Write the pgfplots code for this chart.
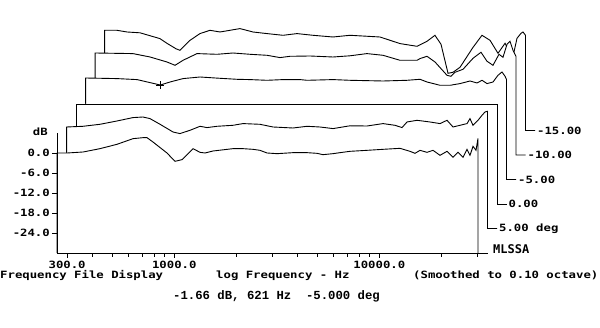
\documentclass[border=0pt]{standalone}
\usepackage{pgfplots}
\usepackage{pgfplotstable}
\pgfplotsset{compat=1.18}
\usepackage{fontspec}
\newfontfamily\dosfont[FakeStretch=1.23]{DejaVu Sans Mono}
\newfontfamily\tallfont{DejaVu Sans Mono}
\newfontfamily\curfont{Liberation Mono}
\newcommand\dos{\dosfont\bfseries\fontsize{10}{12}\selectfont}
\newcommand\tall{\tallfont\bfseries\fontsize{12}{14}\selectfont}
\newcommand\cur{\curfont\bfseries\fontsize{12.3}{14}\selectfont}

% traces: frequency (Hz), level (dB) in each trace's own frame; -30 = floor
\pgfplotstableread{
f db
268 -30
268 0.0
300 0.0
359 0.3
434 1.3
525 2.6
629 4.3
704 4.6
736 4.6
787 3.3
921 0.0
1008 -2.5
1090 -2.0
1234 1.3
1335 0.2
1412 0.0
1545 0.6
1933 1.3
2163 1.3
2420 1.1
2618 0.8
2833 0.0
3170 -0.2
3793 0.1
4440 0.1
4968 -0.1
5314 -0.5
5945 -0.2
6432 0.1
7196 0.5
8710 0.8
10424 1.1
12616 1.4
14116 0.5
14932 -0.1
15795 0.8
17089 0.2
18281 0.8
19775 -0.7
21391 0.5
22882 -1.3
24203 0.2
25600 -1.3
26778 1.1
27694 -0.7
28648 2.0
29630 0.8
30300 4.4
30300 -30
}\traceA

\pgfplotstableread{
f db
268 -30
268 0.45
322 0.66
390 1.26
472 2.25
565 3.27
632 3.45
684 2.97
766 1.26
886 -1.05
958 -1.53
1072 -0.54
1200 0.66
1298 0.27
1452 0.66
1738 0.96
1945 1.47
2353 1.26
2723 0.45
3410 0.15
3990 0.66
4618 0.45
5343 -0.03
6467 0.81
7829 0.75
9370 1.47
10720 0.96
11600 0.27
12270 1.95
13730 2.46
15890 1.95
17780 1.47
19230 2.46
20570 0.45
22250 0.96
24080 1.47
24890 2.97
25740 0.96
27240 2.46
28490 3.96
29460 4.95
30300 5.16
30300 -30
33800 -30
}\traceB

\pgfplotstableread{
f db
268 -30
268 0
30300 0
30300 -30
33800 -30
}\traceC

\pgfplotstableread{
f db
268 -30
268 0.45
381 0.27
478 -0.03
621 -1.66
692 -0.75
801 0.27
969 0.75
1213 0.36
1468 0.06
1699 -0.03
2057 -0.24
2462 -0.03
2980 -0.03
3224 -0.24
4316 -0.03
5225 -0.24
7568 -0.45
9910 -0.24
11470 0.06
12410 -0.75
14360 -1.74
16070 -1.74
17980 -1.23
20110 -0.45
21760 -1.05
23010 -0.24
24350 -1.23
26040 -0.75
27540 1.26
28810 2.25
29810 0.96
30300 0.0
30300 -30
33800 -30
}\traceD

\pgfplotstableread{
f db
268 -30
268 0.6
410 0.42
497 -0.6
601 -2.1
658 -3.09
720 -1.59
842 0.42
1054 0.21
1262 0.6
1527 0.21
1849 -0.09
2140 -0.78
2393 -0.39
2997 -0.3
3880 -0.6
4696 -0.24
5682 0.42
6803 -0.09
8234 -1.59
9968 -1.59
10310 -1.08
11150 -0.39
12200 -2.1
13960 -6.09
14600 -6.39
15270 -5.19
16710 -4.29
18700 -0.99
20450 0.81
21880 -1.89
23400 -3.09
25030 0.21
26180 -0.69
27390 3.21
28330 4.11
29300 1.41
30300 -0.39
30300 -30
33800 -30
}\traceE

\pgfplotstableread{
f db
268 -30
268 0.06
308 0.06
345 -0.45
399 -0.69
499 -2.43
540 -3.84
598 -5.49
625 -5.94
700 -2.94
783 -0.93
876 0.06
980 -0.45
1227 0.57
1420 -0.45
1662 -0.93
1989 -1.44
2327 -0.93
2786 -1.44
3487 -1.95
4222 -1.44
5912 -1.95
7402 -3.93
8960 -4.74
10020 -3.24
10960 -1.44
11730 -4.14
12690 -12.84
13420 -12.54
14520 -11.04
16810 -5.04
18590 -1.44
20340 -2.94
22250 -6.84
24080 -3.84
25460 -6.84
26340 -7.74
27540 -2.34
28810 -0.84
29460 -0.45
30300 -1.44
30300 -30
33800 -30
}\traceF

\pgfplotstableread{
f db
621 -1.66
}\cursor

\def\dx{0.04634}
\def\dy{7.35}

\begin{document}
\begin{tikzpicture}
\useasboundingbox (0pt,0pt) rectangle (600pt,328pt);
\begin{axis}[
  at={(57pt,75pt)}, anchor=south west,
  scale only axis, width=431pt, height=120pt,
  xmin=2.4278, xmax=4.5302, ymin=-30, ymax=6,
  clip=false, axis on top,
  axis x line*=bottom, axis y line*=left,
  x axis line style={-}, y axis line style={-},
  axis line style={line width=0.9pt},
  tick align=outside,
  major tick length=5pt, minor tick length=4pt,
  every tick/.style={black, line width=0.9pt},
  xtick={2.47712,3,4}, xticklabels={300.0,1000.0,10000.0},
  minor xtick={2.60206,2.69897,2.77815,2.84510,2.90309,2.95424,3.30103,3.47712,3.60206,3.69897,3.77815,3.84510,3.90309,3.95424,4.30103,4.47712},
  ytick={-24,-18,-12,-6,0}, yticklabels={-24.0,-18.0,-12.0,-6.0,0.0},
  ticklabel style={font=\dos},
  xticklabel style={anchor=north, inner sep=0pt, yshift=-3pt},
  yticklabel style={anchor=east, inner sep=0pt, xshift=-2pt},
]
\addplot[draw=black, fill=white, line width=0.9pt] table[x expr={log10(\thisrow{f})+5*\dx}, y expr={\thisrow{db}+5*\dy}] {\traceF}
  node[pos=1, anchor=west, inner sep=1.5pt, font=\dos] {-15.00};
\addplot[draw=black, fill=white, line width=0.9pt] table[x expr={log10(\thisrow{f})+4*\dx}, y expr={\thisrow{db}+4*\dy}] {\traceE}
  node[pos=1, anchor=west, inner sep=1.5pt, font=\dos] {-10.00};
\addplot[draw=black, fill=white, line width=0.9pt] table[x expr={log10(\thisrow{f})+3*\dx}, y expr={\thisrow{db}+3*\dy}] {\traceD}
  node[pos=1, anchor=west, inner sep=1.5pt, font=\dos] {-5.00};
\addplot[only marks, mark=+, mark size=4pt, black, line width=0.9pt] table[x expr={log10(\thisrow{f})+3*\dx}, y expr={\thisrow{db}+3*\dy}] {\cursor};
\addplot[draw=black, fill=white, line width=0.9pt] table[x expr={log10(\thisrow{f})+2*\dx}, y expr={\thisrow{db}+2*\dy}] {\traceC}
  node[pos=1, anchor=west, inner sep=1.5pt, font=\dos] {0.00};
\addplot[draw=black, fill=white, line width=0.9pt] table[x expr={log10(\thisrow{f})+1*\dx}, y expr={\thisrow{db}+1*\dy}] {\traceB}
  node[pos=1, anchor=west, inner sep=1.5pt, font=\dos] {5.00 deg};
\addplot[draw=black, fill=white, line width=0.9pt] table[x expr={log10(\thisrow{f})}, y expr={\thisrow{db}}] {\traceA};
\end{axis}
\node[anchor=east, inner sep=0pt, font=\dos] at (48pt,196pt) {dB};
\node[anchor=west, inner sep=0pt, font=\tall] at (493pt,78.7pt) {MLSSA};
\node[anchor=base west, inner sep=0pt, font=\dos] at (0pt,49pt) {Frequency File Display};
\node[anchor=base west, inner sep=0pt, font=\dos] at (216pt,49pt) {log Frequency - Hz};
\node[anchor=base west, inner sep=0pt, font=\dos] at (413pt,49pt) {(Smoothed to 0.10 octave)};
\node[anchor=base west, inner sep=0pt, font=\cur] at (173pt,28pt) {-1.66 dB, 621 Hz\ \ -5.000 deg};
\end{tikzpicture}
\end{document}
